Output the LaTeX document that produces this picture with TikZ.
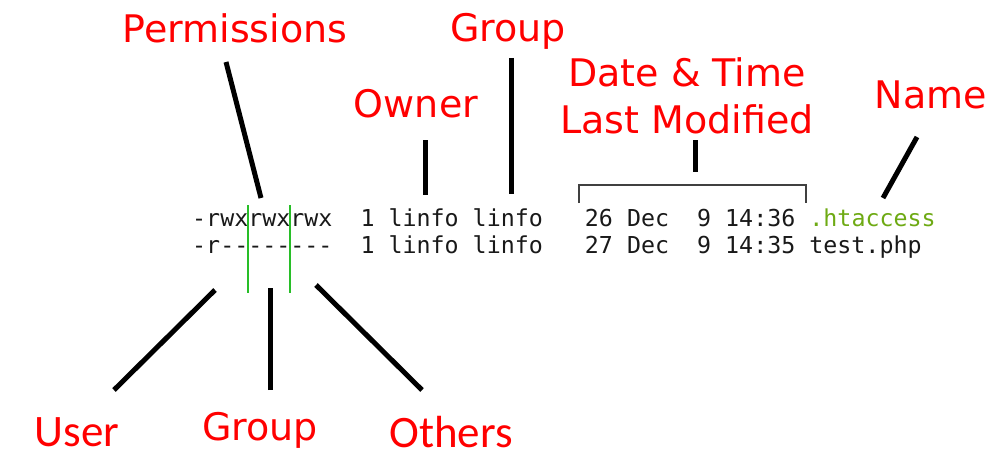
\documentclass[tikz,border=0pt]{standalone}
\usepackage{fontspec}
\setmainfont{DejaVu Sans}
\newfontfamily\termfont{DejaVu Sans Mono}
\newfontfamily\calfont{Carlito}
\definecolor{labelred}{RGB}{255,0,0}
\definecolor{termgreen}{RGB}{110,170,20}
\definecolor{termtext}{RGB}{25,25,25}
\definecolor{divgreen}{RGB}{40,190,40}

\begin{document}
\begin{tikzpicture}[x=1pt,y=-1pt,
  tag/.style={text=labelred,font=\fontsize{38}{46}\selectfont,inner sep=0pt,anchor=base},
  side tag/.style={text=labelred,font=\calfont\fontsize{45}{54}\selectfont,inner sep=0pt,anchor=base},
  term/.style={text=termtext,font=\termfont\fontsize{23.3}{28}\selectfont,inner sep=0pt,anchor=base west},
  pointer/.style={line width=5pt},
  divider/.style={draw=divgreen,line width=1.5pt}]

  \useasboundingbox (0,0) rectangle (990,460);

  % the two listing rows
  \node[term] (row1) at (192,226) {-rwxrwxrwx~~1 linfo linfo~~~26 Dec~~9 14:36 \textcolor{termgreen}{.htaccess}};
  \node[term] (row2) at (192,253) {-r--------~~1 linfo linfo~~~27 Dec~~9 14:35 test.php};

  % labels
  \node[tag] (perm) at (235,43) {Permissions};
  \node[tag] (owner) at (416,117) {Owner};
  \node[tag] (group) at (508,42) {Group};
  \node[tag] (date) at (687,86) {Date \& Time};
  \node[tag] (modified) at (687,133) {Last Modified};
  \node[tag] (name) at (931,108) {Name};
  \node[side tag] (user) at (77,446) {User};
  \node[tag] (ugroup) at (260,440) {Group};
  \node[side tag] (others) at (451,447) {Others};

  % pointer ends
  \coordinate (perm foot) at (226,62);   \coordinate (perm tip) at (261,198);
  \coordinate (owner foot) at (425,140); \coordinate (owner tip) at (425,195);
  \coordinate (group foot) at (511,58);  \coordinate (group tip) at (511,194);
  \coordinate (date foot) at (695,140);  \coordinate (date tip) at (695,172);
  \coordinate (name foot) at (917,137);  \coordinate (name tip) at (883,198);
  \coordinate (user foot) at (114,390);  \coordinate (user tip) at (215,290);
  \coordinate (ugroup foot) at (270,390); \coordinate (ugroup tip) at (270,288);
  \coordinate (others foot) at (422,390); \coordinate (others tip) at (316,285);

  \path[pointer]
    (perm foot) edge (perm tip)
    (owner foot) edge (owner tip)
    (group foot) edge (group tip)
    (date foot) edge (date tip)
    (name foot) edge (name tip)
    (user foot) edge (user tip)
    (ugroup foot) edge (ugroup tip)
    (others foot) edge (others tip);

  % bracket over the date column
  \draw[line width=2pt,black!75] (579,203) -- (579,185) -- (806,185) -- (806,203);

  % splits between user, group and others
  \draw[divider] (248,205) -- (248,293);
  \draw[divider] (290,205) -- (290,293);
\end{tikzpicture}
\end{document}
